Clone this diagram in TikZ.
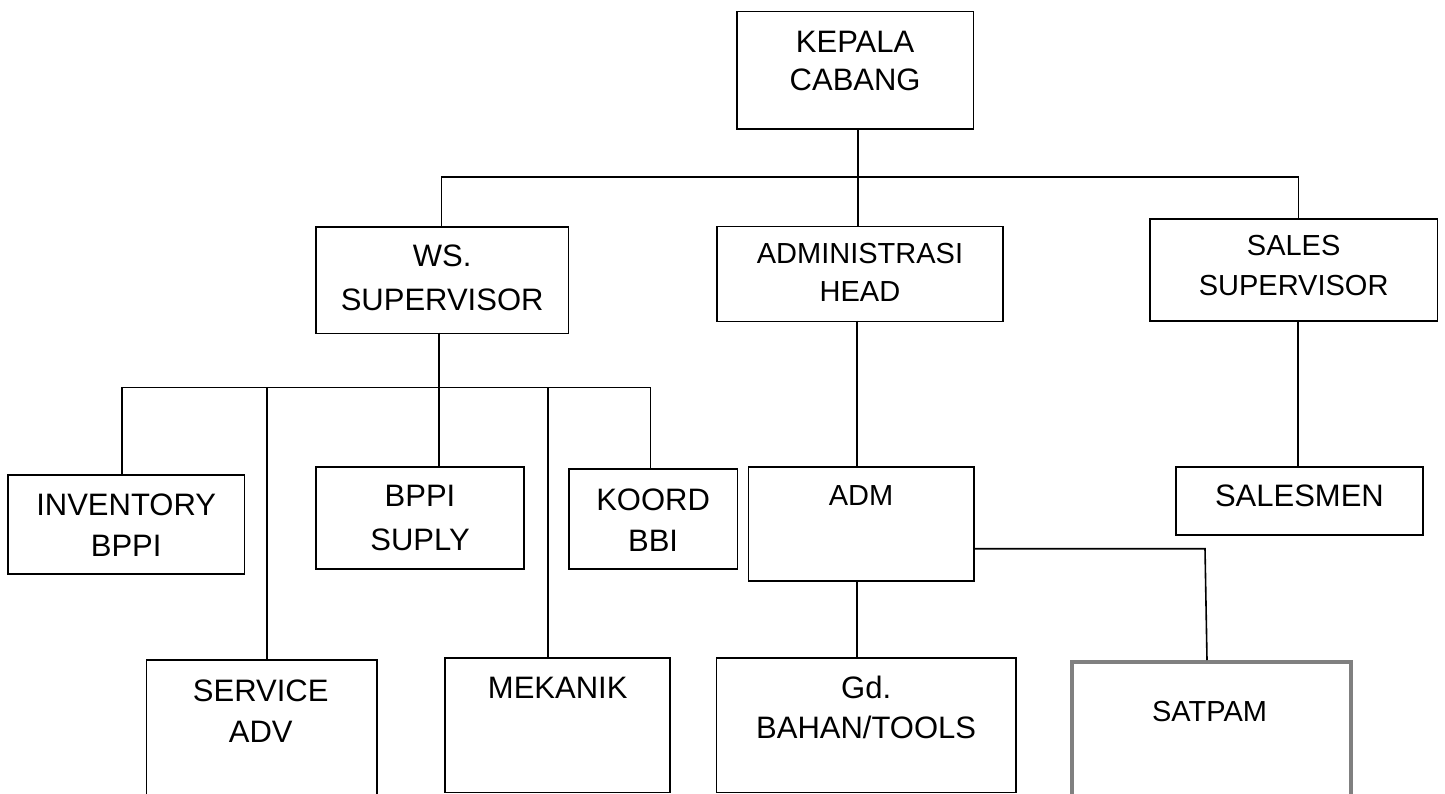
\documentclass[tikz,border=0pt]{standalone}
\usepackage{fontspec}
\setmainfont{Liberation Sans}
\begin{document}
\begin{tikzpicture}[x=1pt,y=-1pt,
  orgbox/.style={draw, line width=1.6pt, inner sep=0pt, anchor=north west},
  graybox/.style={draw=black!50, line width=4pt, inner sep=0pt, anchor=north west},
  lbl/.style={anchor=base, inner sep=0pt, font=\fontsize{31}{36}\selectfont},
  lbls/.style={anchor=base, inner sep=0pt, font=\fontsize{29}{34}\selectfont},
  conn/.style={line width=1.6pt}]
\clip (0,0) rectangle (1445,793);
\fill[white] (0,0) rectangle (1445,793);

% boxes
\node[orgbox, minimum width=236.7pt, minimum height=117.3pt] (kepala) at (736,10.7) {};
\node[orgbox, minimum width=252.7pt, minimum height=106.4pt] (ws) at (315,226.3) {};
\node[orgbox, minimum width=286.3pt, minimum height=95pt] (admin) at (716,225.7) {};
\node[orgbox, minimum width=287.7pt, minimum height=101.7pt] (sales) at (1149,218.3) {};
\node[orgbox, minimum width=236.9pt, minimum height=99.3pt] (inv) at (6.9,474) {};
\node[orgbox, minimum width=208.4pt, minimum height=102pt] (suply) at (315,466.3) {};
\node[orgbox, minimum width=168.6pt, minimum height=100pt] (koord) at (568,468.3) {};
\node[orgbox, minimum width=230.5pt, minimum height=150pt] (service) at (145.5,659.3) {};
\node[orgbox, minimum width=225pt, minimum height=134.4pt] (mekanik) at (444.4,657.3) {};
\node[orgbox, minimum width=225.5pt, minimum height=114pt] (adm) at (747.5,466) {};
\node[orgbox, minimum width=299.3pt, minimum height=134.4pt] (gd) at (715.7,657.3) {};
\node[graybox, minimum width=279.8pt, minimum height=150pt] (satpam) at (1069.6,660) {};
\node[orgbox, minimum width=247.3pt, minimum height=68.3pt] (salesmen) at (1175,466) {};

% texts
\node[lbl] (kepala1) at (kepala.center |- 0,52.3) {KEPALA};
\node[lbl] (kepala2) at (kepala.center |- 0,90.7) {CABANG};
\node[lbl] (ws1) at (ws.center |- 0,266.7) {WS.};
\node[lbl] (ws2) at (ws.center |- 0,310) {SUPERVISOR};
\node[lbls] (admin1) at (admin.center |- 0,263.3) {ADMINISTRASI};
\node[lbls] (admin2) at (admin.center |- 0,301.7) {HEAD};
\node[lbls] (sales1) at (sales.center |- 0,255) {SALES};
\node[lbls] (sales2) at (sales.center |- 0,295) {SUPERVISOR};
\node[lbl] (inv1) at (inv.center |- 0,515.7) {INVENTORY};
\node[lbl] (inv2) at (inv.center |- 0,556.7) {BPPI};
\node[lbl] (suply1) at (suply.center |- 0,506.7) {BPPI};
\node[lbl] (suply2) at (suply.center |- 0,550) {SUPLY};
\node[lbl] (koord1) at (koord.center |- 0,510) {KOORD};
\node[lbl] (koord2) at (koord.center |- 0,551.7) {BBI};
\node[lbl] (service1) at (260.7,701) {SERVICE};
\node[lbl] (service2) at (260.7,742.3) {ADV};
\node[lbl] (mekanik1) at (mekanik.center |- 0,698.3) {MEKANIK};
\node[lbls] (adm1) at (adm.center |- 0,505) {ADM};
\node[lbl] (gd1) at (gd.center |- 0,698.3) {Gd.};
\node[lbl] (gd2) at (gd.center |- 0,738.3) {BAHAN/TOOLS};
\node[lbls] (satpam1) at (1209.5,721.7) {SATPAM};
\node[lbl] (salesmen1) at (salesmen.center |- 0,506.7) {SALESMEN};

% bus coordinates
\coordinate (topL) at (441.3,176.7);
\coordinate (topR) at (1298.3,176.7);
\coordinate (busL) at (122,387.3);
\coordinate (busR) at (650.6,387.3);
\coordinate (admturn) at (1205,548.7);

% connectors
\draw[conn] (858,128) -- (858,225.7);
\draw[conn] (ws.north -| topL) -- (topL) -- (topR) -- (sales.north -| topR);
\draw[conn] (439,332.7) -- (439,466.3);
\draw[conn] (busL) -- (busR);
\draw[conn] (busL) -- (inv.north -| busL);
\draw[conn] (266.8,387.3) -- (266.8,659.3);
\draw[conn] (547.7,387.3) -- (547.7,657.3);
\draw[conn] (busR) -- (koord.north -| busR);
\draw[conn] (857,320.7) -- (857,466);
\draw[conn] (857,580) -- (857,657.3);
\draw[conn] (adm.east |- admturn) -- (admturn) -- (1207,660);
\draw[conn] (1298,320) -- (1298,466);
\end{tikzpicture}
\end{document}
